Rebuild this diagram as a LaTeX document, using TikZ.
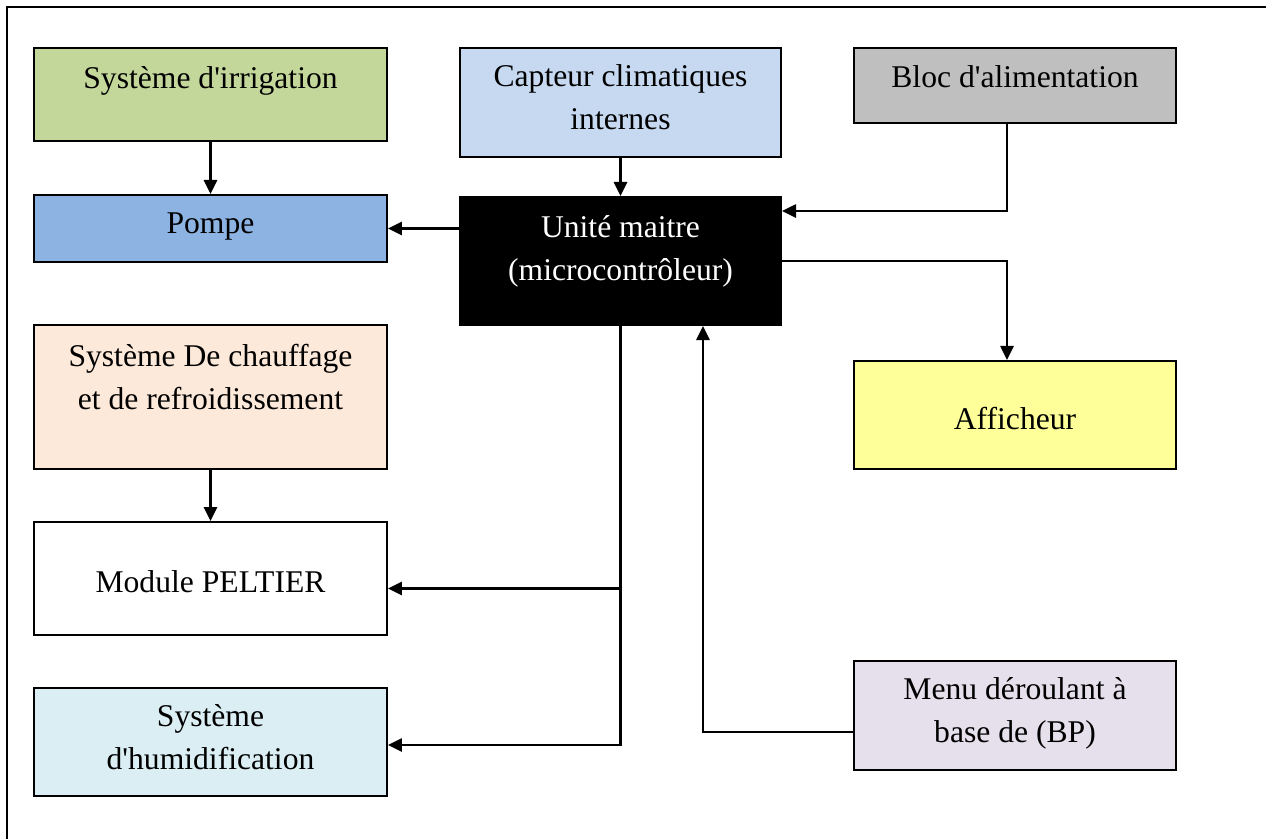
\documentclass[tikz,border=0pt]{standalone}
\usepackage{fontspec}
\setmainfont{Liberation Serif}
\usetikzlibrary{arrows.meta}

\definecolor{irrigvert}{HTML}{C4D79B}
\definecolor{capteurbleu}{HTML}{C6D9F0}
\definecolor{alimgris}{HTML}{BFBFBF}
\definecolor{pompebleu}{HTML}{8DB3E2}
\definecolor{chaufrose}{HTML}{FDE9D9}
\definecolor{afficjaune}{HTML}{FFFF99}
\definecolor{humidcyan}{HTML}{DAEEF3}
\definecolor{menumauve}{HTML}{E5E0EC}

\begin{document}
\begin{tikzpicture}[x=0.02cm, y=-0.02cm,
    bloc/.style={draw, line width=1.1pt, inner sep=0pt, align=center,
        font=\fontsize{18}{24}\selectfont},
    gauche/.style={bloc, minimum width=7.06cm},
    milieu/.style={bloc, minimum width=6.42cm},
    droite/.style={bloc, minimum width=6.44cm},
    fleche/.style={line width=1.2pt, -{Triangle[length=8pt,width=7.5pt]}}]

    % 1. Cadre de la page (seuls les bords gauche et haut sont visibles)
    \useasboundingbox (0,0) rectangle (1266,839);
    \draw[line width=1.4pt] (7,839) |- (1266,7);

    % 2. Les blocs (texte cale en haut comme dans une zone de texte)
    \node[gauche, fill=irrigvert, text height=0.8cm, text depth=1.06cm] (irrig) at (210.5,94.5) {Système d\textquotesingle irrigation};
    \node[milieu, fill=capteurbleu, text height=1.62cm, text depth=0.56cm] (capteur) at (620.5,102.5) {Capteur climatiques\\internes};
    \node[droite, fill=alimgris, text height=0.78cm, text depth=0.72cm] (alim) at (1015,85.5) {Bloc d\textquotesingle alimentation};

    \node[gauche, fill=pompebleu, text height=0.76cm, text depth=0.58cm] (pompe) at (210.5,228.5) {Pompe};
    \node[milieu, fill=black, text=white, text height=1.66cm, text depth=0.9cm] (maitre) at (620.5,261) {Unité maitre\\(microcontrôleur)};

    \node[gauche, fill=chaufrose, text height=1.68cm, text depth=1.2cm] (chauffage) at (210.5,397) {Système De chauffage\\et de refroidissement};
    \node[droite, fill=afficjaune, text height=1.36cm, text depth=0.8cm] (afficheur) at (1015,415) {Afficheur};

    \node[gauche, fill=white, text height=1.4cm, text depth=0.86cm] (peltier) at (210.5,578.5) {Module PELTIER};
    \node[gauche, fill=humidcyan, text height=1.62cm, text depth=0.54cm] (humid) at (210.5,742) {Système\\d\textquotesingle humidification};
    \node[droite, fill=menumauve, text height=1.62cm, text depth=0.56cm] (menu) at (1015,715.5) {Menu déroulant à\\base de (BP)};

    % 3. Liaisons
    \draw[fleche] (irrig) -- (pompe);
    \draw[fleche] (capteur) -- (maitre);
    \draw[fleche] ([xshift=-0.16cm]alim.south) |- ([yshift=1cm]maitre.east);
    \draw[fleche] (maitre.west |- pompe) -- (pompe);
    \draw[fleche] (maitre.east) -| ([xshift=-0.16cm]afficheur.north);
    \draw[fleche] (chauffage) -- (peltier);

    % sortie basse du maitre vers le PELTIER et l'humidification
    \coordinate (branche) at ([yshift=-0.2cm]peltier.east);
    \draw[fleche] (maitre.south) |- ([yshift=-0.06cm]humid.east);
    \draw[fleche] (maitre.south |- branche) -- (branche);

    % menu vers le maitre
    \draw[fleche] ([yshift=-0.33cm]menu.west) -| ([xshift=1.65cm]maitre.south);

\end{tikzpicture}
\end{document}
